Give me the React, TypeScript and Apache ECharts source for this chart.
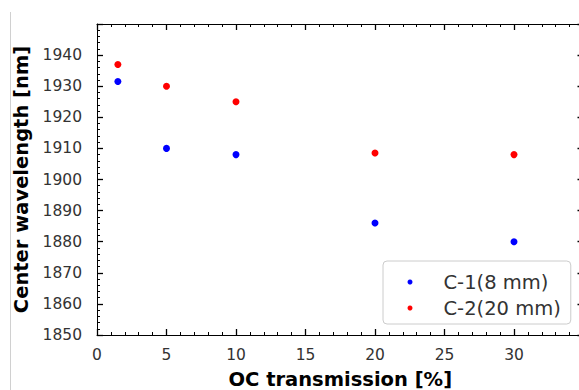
import React, { useEffect, useRef } from "react";
import * as echarts from "echarts";

const seriesNames = ["C-1(8 mm)", "C-2(20 mm)"];
const xC1 = [1.5, 5, 10, 20, 30];
const yC1 = [1931.5, 1910, 1908, 1886, 1880];
const xC2 = [1.5, 5, 10, 20, 30];
const yC2 = [1937, 1930, 1925, 1908.5, 1908];
const colors = ["#0000ff", "#ff0000"];

const FONT = "DejaVu Sans";

export default function App() {
  const ref = useRef<HTMLDivElement>(null);
  useEffect(() => {
    if (!ref.current) return;
    const chart = echarts.init(ref.current, undefined, { renderer: "svg" });
    const tickCommon = {
      show: true,
      inside: true,
      length: 6,
      lineStyle: { color: "#000", width: 1.3 },
    };
    const minorCommon = {
      show: true,
      splitNumber: 5,
      length: 3,
      lineStyle: { color: "#000", width: 1 },
    };
    const lineCommon = { show: true, onZero: false, lineStyle: { color: "#000", width: 1 } };
    const fmt = (v: number) => String(v);
    chart.setOption({
      animation: false,
      grid: {
        left: 97,
        top: 24,
        width: 486.5,
        height: 311,
        containLabel: false,
        outerBoundsMode: "none",
      },
      xAxis: [
        {
          type: "value",
          min: 0,
          max: 35,
          interval: 5,
          position: "bottom",
          axisLine: lineCommon,
          axisTick: tickCommon,
          minorTick: minorCommon,
          splitLine: { show: false },
          axisLabel: {
            showMaxLabel: false,
            formatter: fmt,
            margin: 12,
            fontFamily: FONT,
            fontSize: 15.5,
            color: "#333",
          },
          name: "OC transmission [%]",
          nameLocation: "middle",
          nameGap: 34,
          nameTextStyle: { fontFamily: FONT, fontSize: 19.5, fontWeight: "bold", color: "#000" },
        },
        {
          type: "value",
          min: 0,
          max: 35,
          interval: 5,
          position: "top",
          axisLine: lineCommon,
          axisTick: tickCommon,
          minorTick: minorCommon,
          splitLine: { show: false },
          axisLabel: { show: false },
        },
      ],
      yAxis: [
        {
          type: "value",
          min: 1850,
          max: 1950,
          interval: 10,
          position: "left",
          axisLine: lineCommon,
          axisTick: tickCommon,
          minorTick: minorCommon,
          splitLine: { show: false },
          axisLabel: {
            showMaxLabel: false,
            formatter: fmt,
            margin: 15,
            fontFamily: FONT,
            fontSize: 15.5,
            color: "#333",
          },
          name: "Center wavelength [nm]",
          nameLocation: "middle",
          nameGap: 63,
          nameTextStyle: { fontFamily: FONT, fontSize: 19.5, fontWeight: "bold", color: "#000" },
        },
        {
          type: "value",
          min: 1850,
          max: 1950,
          interval: 10,
          position: "right",
          axisLine: lineCommon,
          axisTick: tickCommon,
          minorTick: minorCommon,
          splitLine: { show: false },
          axisLabel: { show: false },
        },
      ],
      legend: {
        left: 383,
        top: 261,
        orient: "vertical",
        selectedMode: false,
        backgroundColor: "rgba(255,255,255,0.8)",
        borderColor: "#cccccc",
        borderWidth: 1,
        borderRadius: 4,
        padding: [11, 10, 6, 24.5],
        itemWidth: 5,
        itemHeight: 5,
        itemGap: 6,
        icon: "circle",
        formatter: (name: string) => "{t|" + name + "}",
        textStyle: {
          fontFamily: FONT,
          fontSize: 19.5,
          color: "#333",
          rich: {
            t: {
              fontFamily: FONT,
              fontSize: 19.5,
              color: "#333",
              lineHeight: 22,
              padding: [0, 0, 0, 26],
            },
          },
        },
        data: seriesNames,
      },
      graphic: [
        {
          type: "line",
          shape: { x1: 10.5, y1: 12, x2: 10.5, y2: 390 },
          style: { stroke: "#d0d0d0", lineWidth: 1 },
          silent: true,
        },
      ],
      series: [
        {
          name: seriesNames[0],
          type: "scatter",
          symbol: "circle",
          symbolSize: 7,
          itemStyle: { color: colors[0], opacity: 1 },
          data: xC1.map((x, i) => [x, yC1[i]]),
        },
        {
          name: seriesNames[1],
          type: "scatter",
          symbol: "circle",
          symbolSize: 7,
          itemStyle: { color: colors[1], opacity: 1 },
          data: xC2.map((x, i) => [x, yC2[i]]),
        },
      ],
    });
    return () => chart.dispose();
  }, []);
  return (
    <div
      ref={ref}
      style={{ position: "fixed", left: 0, top: 0, width: 579, height: 390, background: "#fff" }}
    />
  );
}
